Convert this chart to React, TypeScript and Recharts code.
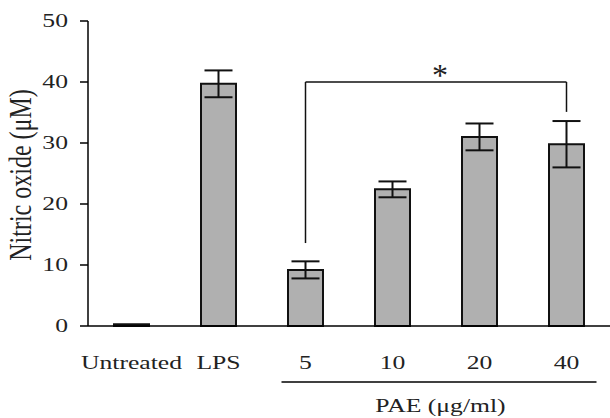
import { BarChart, Bar, XAxis, YAxis, ErrorBar, ReferenceLine } from 'recharts'

const categories = ['Untreated', 'LPS', '5', '10', '20', '40']
const nitricOxide = [0.3, 39.7, 9.2, 22.4, 31.0, 29.8]
const errors = [0, 2.2, 1.4, 1.3, 2.2, 3.8]
const yTicks = [0, 10, 20, 30, 40, 50]
const paeGroup = ['5', '10', '20', '40']

const data = categories.map((name, i) => ({ name, value: nitricOxide[i], err: errors[i] }))

const FONT = 'Liberation Serif, Times New Roman, serif'
const STRETCH = 1.35
const BAND = 87

function XTick({ x, y, payload }) {
  const v = payload.value
  const idx = paeGroup.indexOf(v)
  let line = null
  if (idx >= 0) {
    const x1 = idx === 0 ? x - 24 : x - BAND / 2
    const x2 = idx === paeGroup.length - 1 ? x + 30 : x + BAND / 2
    line = <line x1={x1} x2={x2} y1={y + 56} y2={y + 56} stroke="#000" strokeWidth={1.5} />
  }
  return (
    <g>
      <text
        transform={`translate(${x},${y + 37}) scale(${STRETCH},1)`}
        textAnchor="middle"
        dominantBaseline="central"
        fontFamily={FONT}
        fontSize={19}
        fill="#222"
      >
        {v}
      </text>
      {line}
      {v === '10' && (
        <text
          transform={`translate(${x + 48},${y + 80}) scale(${STRETCH},1)`}
          textAnchor="middle"
          dominantBaseline="central"
          fontFamily={FONT}
          fontSize={19}
          fill="#222"
        >
          PAE (μg/ml)
        </text>
      )}
    </g>
  )
}

function YTick({ y, payload }) {
  return (
    <text
      transform={`translate(68,${y}) scale(${STRETCH},1)`}
      textAnchor="end"
      dominantBaseline="central"
      fontFamily={FONT}
      fontSize={19}
      fill="#222"
    >
      {payload.value}
    </text>
  )
}

export default function App() {
  return (
    <div style={{ position: 'absolute', left: 0, top: 0, background: '#fff' }}>
      <BarChart width={610} height={418} data={data} margin={{ top: 21, right: 0, bottom: 0, left: 0 }}>
        <XAxis
          dataKey="name"
          height={92}
          tickLine={false}
          tickSize={0}
          tickMargin={0}
          axisLine={{ stroke: '#000', strokeWidth: 1.5 }}
          tick={<XTick />}
          interval={0}
        />
        <YAxis
          width={88}
          domain={[0, 50]}
          ticks={yTicks}
          tickSize={8}
          tickLine={{ stroke: '#000', strokeWidth: 1.5 }}
          axisLine={{ stroke: '#000', strokeWidth: 1.5 }}
          tick={<YTick />}
          label={{
            content: () => (
              <text
                transform={`translate(20,175) scale(1.3,1) rotate(-90)`}
                textAnchor="middle"
                dominantBaseline="central"
                fontFamily={FONT}
                fontSize={24}
                fill="#222"
              >
                Nitric oxide (μM)
              </text>
            ),
          }}
        />
        <Bar dataKey="value" fill="#b0b0b0" stroke="#111" strokeWidth={2} barSize={35} isAnimationActive={false}>
          <ErrorBar dataKey="err" width={14} stroke="#111" strokeWidth={2} />
        </Bar>
        <ReferenceLine
          segment={[{ x: '5', y: 13.6 }, { x: '5', y: 40 }]}
          stroke="#111"
          strokeWidth={1.5}
          ifOverflow="visible"
        />
        <ReferenceLine
          segment={[{ x: '40', y: 35.1 }, { x: '40', y: 40 }]}
          stroke="#111"
          strokeWidth={1.5}
          ifOverflow="visible"
        />
        <ReferenceLine
          segment={[{ x: '5', y: 40 }, { x: '40', y: 40 }]}
          stroke="#111"
          strokeWidth={1.5}
          ifOverflow="visible"
          label={{
            content: (props) => {
              const vb = props.viewBox || {}
              const cx = (vb.x || 0) + (vb.width || 0) / 2 + 4
              return (
                <text x={cx} y={(vb.y || 0) + 4} textAnchor="middle" fontFamily={FONT} fontSize={32} fill="#222">
                  *
                </text>
              )
            },
          }}
        />
      </BarChart>
    </div>
  )
}
